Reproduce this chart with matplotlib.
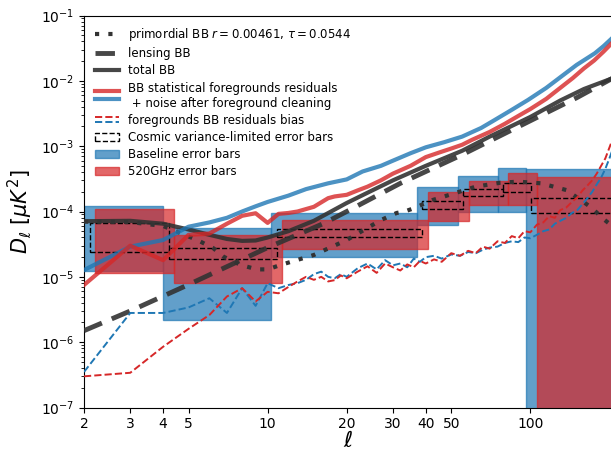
import numpy as np
import matplotlib
matplotlib.use("Agg")
import matplotlib.pyplot as plt
from matplotlib.patches import Rectangle, Patch
from matplotlib.lines import Line2D
from matplotlib.legend_handler import HandlerBase
from matplotlib.ticker import FixedLocator, NullLocator, FixedFormatter

# ---------------- data ----------------
ell_prim = [2, 3, 4, 5.4, 6.2, 6.8, 7.9, 9.1, 10, 11.2, 15, 20, 27, 31, 33, 36, 42.5, 49, 62, 77, 90, 110, 137, 159, 171, 192, 205]
D_prim = [7.0e-5, 6.9e-5, 6.0e-5, 3.66e-5, 2.76e-5, 2.03e-5, 1.52e-5, 1.3e-5, 1.3e-5, 1.52e-5, 2.16e-5, 3.66e-5,
          7.4e-5, 9.5e-5, 9.9e-5, 1.12e-4, 1.5e-4, 1.79e-4, 2.4e-4, 2.76e-4, 2.86e-4, 2.7e-4, 2.13e-4, 1.41e-4,
          1.14e-4, 7.4e-5, 6.0e-5]

ell_lens = [2, 3, 5, 10, 16.4, 20, 32, 55, 100, 150, 206]
D_lens = [1.5e-6, 3.0e-6, 7.6e-6, 2.8e-5, 6.6e-5, 1.0e-4, 2.7e-4, 7.4e-4, 2.45e-3, 5.5e-3, 1.1e-2]

ell_tot = [2, 3, 4, 5, 6, 7, 8, 9, 10, 12, 15, 20, 25, 30, 40, 55, 70, 100, 130, 160, 206]
D_tot = [7.1e-5, 7.2e-5, 6.5e-5, 5.3e-5, 4.4e-5, 3.8e-5, 3.55e-5, 3.6e-5, 4.0e-5, 5.0e-5, 7.2e-5, 1.35e-4,
         2.1e-4, 3.0e-4, 5.0e-4, 8.5e-4, 1.4e-3, 2.8e-3, 5.0e-3, 7.5e-3, 1.1e-2]

ell_res_520 = [2, 3, 4, 5, 6, 7, 8, 9, 10, 11, 12, 13, 15, 17, 18, 20, 22, 24, 27, 30, 35, 40, 45, 50, 55, 60,
               70, 80, 90, 100, 115, 130, 145, 160, 175, 190, 206]
D_res_520 = [7.5e-6, 3.0e-5, 1.8e-5, 4.4e-5, 4.6e-5, 6.5e-5, 8.6e-5, 9.4e-5, 6.7e-5, 9.2e-5, 9.5e-5, 1.0e-4,
             1.18e-4, 1.6e-4, 1.7e-4, 1.8e-4, 2.1e-4, 2.4e-4, 3.0e-4, 3.8e-4, 5.0e-4, 6.8e-4, 8.0e-4, 9.2e-4,
             1.05e-3, 1.25e-3, 1.65e-3, 2.2e-3, 2.9e-3, 3.7e-3, 5.3e-3, 7.8e-3, 1.1e-2, 1.55e-2, 2.05e-2,
             2.8e-2, 3.9e-2]

ell_res_base = [2, 3, 4, 5, 6, 7, 8, 9, 10, 12, 14, 17, 20, 23, 27, 30, 35, 40, 47, 55, 65, 73, 85, 98, 115,
                131, 150, 176, 190, 206]
D_res_base = [1.27e-5, 2.9e-5, 3.66e-5, 5.85e-5, 6.8e-5, 8.0e-5, 1.0e-4, 1.2e-4, 1.4e-4, 1.75e-4, 2.2e-4,
              2.7e-4, 3.1e-4, 4.1e-4, 5.0e-4, 6.0e-4, 7.8e-4, 9.6e-4, 1.15e-3, 1.4e-3, 1.9e-3, 2.5e-3, 3.6e-3,
              5.1e-3, 7.8e-3, 1.16e-2, 1.75e-2, 2.64e-2, 3.4e-2, 4.6e-2]

ell_bias = [2, 3, 4, 5, 6, 7, 8, 9, 10, 11, 12, 13, 14, 15, 16, 17, 18, 19, 20, 22, 24, 26, 28, 30, 32, 34, 36,
            38, 40, 43, 46, 50, 54, 58, 62, 66, 70, 75, 80, 85, 90, 95, 100, 106, 112, 118, 124, 130, 137, 144,
            151, 158, 165, 172, 179, 186, 193, 200, 206]
D_bias_520 = [3.0e-7, 3.4e-7, 8.5e-7, 1.6e-6, 2.6e-6, 5.0e-6, 6.7e-6, 4.2e-6, 5.9e-6, 5.6e-6, 7.0e-6, 8.5e-6,
              1.0e-5, 9.0e-6, 1.0e-5, 8.5e-6, 8.9e-6, 1.05e-5, 9.5e-6, 1.2e-5, 1.45e-5, 1.15e-5, 1.6e-5,
              1.4e-5, 1.25e-5, 1.55e-5, 1.4e-5, 1.75e-5, 1.6e-5, 1.85e-5, 1.7e-5, 2.3e-5, 2.1e-5, 2.5e-5,
              2.3e-5, 2.9e-5, 2.7e-5, 3.5e-5, 3.3e-5, 4.2e-5, 3.9e-5, 5.0e-5, 4.8e-5, 6.3e-5, 6.8e-5, 8.5e-5,
              8.0e-5, 1.05e-4, 1.15e-4, 1.4e-4, 1.65e-4, 2.1e-4, 2.5e-4, 3.0e-4, 3.8e-4, 5.0e-4, 6.5e-4,
              9.5e-4, 1.3e-3]
D_bias_base = [3.5e-7, 2.8e-6, 2.8e-6, 3.4e-6, 4.7e-6, 2.8e-6, 6.7e-6, 3.6e-6, 8.0e-6, 6.7e-6, 7.5e-6, 8.0e-6,
               9.0e-6, 1.1e-5, 1.2e-5, 1.0e-5, 9.5e-6, 1.1e-5, 1.0e-5, 1.35e-5, 1.6e-5, 1.3e-5, 1.8e-5,
               1.5e-5, 1.6e-5, 1.4e-5, 1.9e-5, 1.7e-5, 2.0e-5, 2.1e-5, 1.9e-5, 2.2e-5, 2.1e-5, 2.4e-5,
               2.3e-5, 2.6e-5, 2.8e-5, 2.9e-5, 3.3e-5, 3.5e-5, 3.4e-5, 4.0e-5, 3.9e-5, 4.4e-5, 5.0e-5,
               5.3e-5, 6.5e-5, 7.2e-5, 8.0e-5, 9.5e-5, 1.05e-4, 1.3e-4, 1.6e-4, 2.0e-4, 2.6e-4, 3.3e-4,
               4.5e-4, 6.5e-4, 9.0e-4]

# bin edges (multipoles) of the error boxes
bin_edges = [2, 4, 10.3, 37, 53, 75, 96, 400]
shift_cv = 1.05
shift_520 = 1.1

base_lo = [1.23e-5, 2.18e-6, 2.03e-5, 6.2e-5, 9.9e-5, 1.0e-4, 1e-9]
base_hi = [1.21e-4, 5.65e-5, 9.4e-5, 2.4e-4, 3.49e-4, 4.68e-4, 4.4e-4]
r520_lo = [1.16e-5, 8.1e-6, 2.67e-5, 7.1e-5, 1.26e-4, 1.26e-4, 1e-9]
r520_hi = [1.09e-4, 4.37e-5, 7.4e-5, 2.0e-4, 2.95e-4, 3.85e-4, 3.4e-4]
cv_lo = [2.37e-5, 1.85e-5, 4.1e-5, 1.08e-4, 1.73e-4, 2.0e-4, 9.5e-5]
cv_hi = [6.6e-5, 2.73e-5, 5.33e-5, 1.44e-4, 2.19e-4, 2.7e-4, 1.62e-4]

xticks = [2, 3, 4, 5, 10, 20, 30, 40, 50, 100]
yticks = [1e-7, 1e-6, 1e-5, 1e-4, 1e-3, 1e-2, 1e-1]

# ---------------- plot ----------------
blue = "#1f77b4"
red = "#d62728"
dark = "#333333"

fig = plt.figure(figsize=(6.11, 4.53), dpi=100)
ax = fig.add_axes([84 / 611, 45.5 / 453, 1 - 84 / 611 + 0.002, 392 / 453])
ax.set_xscale("log")
ax.set_yscale("log")

def add_boxes(lo, hi, shift, **kw):
    for i in range(len(lo)):
        x0 = bin_edges[i] * shift
        x1 = bin_edges[i + 1] * shift
        ax.add_patch(Rectangle((x0, lo[i]), x1 - x0, hi[i] - lo[i], **kw))

add_boxes(base_lo, base_hi, 1.0, facecolor=blue, edgecolor=blue, alpha=0.7, lw=1, zorder=1)
add_boxes(r520_lo, r520_hi, shift_520, facecolor=red, edgecolor=red, alpha=0.7, lw=1, zorder=1.1)
add_boxes(cv_lo, cv_hi, shift_cv, facecolor="none", edgecolor="k", ls="--", lw=1.0, zorder=1.2)

ax.plot(ell_prim, D_prim, ls=(0, (1, 2.2)), color=dark, lw=3, zorder=3)
ax.plot(ell_lens, D_lens, ls=(0, (4, 2.2)), color=dark, lw=3.5, alpha=0.9, zorder=3)
ax.plot(ell_tot, D_tot, ls="-", color=dark, lw=3, alpha=0.9, zorder=3)
ax.plot(ell_res_base, D_res_base, color=blue, lw=3, alpha=0.8, zorder=3)
ax.plot(ell_res_520, D_res_520, color=red, lw=3, alpha=0.8, zorder=3)
ax.plot(ell_bias, D_bias_base, color=blue, ls="--", lw=1.4, zorder=3)
ax.plot(ell_bias, D_bias_520, color=red, ls="--", lw=1.4, zorder=3)

ax.set_xlim(2, 205)
ax.set_ylim(1e-7, 1e-1)
ax.xaxis.set_major_locator(FixedLocator(xticks))
ax.xaxis.set_major_formatter(FixedFormatter([str(t) for t in xticks]))
ax.xaxis.set_minor_locator(NullLocator())
ax.set_yticks(yticks)
ax.tick_params(labelsize=10)
ax.spines["right"].set_visible(False)
ax.set_xlabel(r"$\ell$", fontsize=16, labelpad=0)
ax.set_ylabel(r"$D_\ell\ [\mu K^2]$", fontsize=15, labelpad=4)


class HandlerStack(HandlerBase):
    def __init__(self, sep=4, shift=0, **kw):
        super().__init__(**kw)
        self.sep = sep
        self.shift = shift

    def create_artists(self, legend, orig_handle, xdescent, ydescent, width, height, fontsize, trans):
        artists = []
        yc = height / 2 - ydescent + self.shift
        for k, h in enumerate(orig_handle.lines):
            off = (0.5 - k) * self.sep
            ln = Line2D([-xdescent, -xdescent + width], [yc + off, yc + off],
                        color=h.get_color(), ls=h.get_linestyle(), lw=h.get_linewidth(),
                        alpha=h.get_alpha(), transform=trans)
            artists.append(ln)
        return artists


class Pair:
    def __init__(self, *lines):
        self.lines = lines


class PairRes(Pair):
    pass


class PairBias(Pair):
    pass


h_prim = Line2D([], [], ls=(0, (1, 2.2)), color=dark, lw=3)
h_lens = Line2D([], [], ls=(0, (4, 2.2)), color=dark, lw=3.5, alpha=0.9)
h_tot = Line2D([], [], color=dark, lw=3, alpha=0.9)
h_res = PairRes(Line2D([], [], color=red, lw=3, alpha=0.8), Line2D([], [], color=blue, lw=3, alpha=0.8))
h_bias = PairBias(Line2D([], [], color=red, ls="--", lw=1.4), Line2D([], [], color=blue, ls="--", lw=1.4))
h_cv = Patch(facecolor="none", edgecolor="k", ls="--", lw=1.0)
h_base = Patch(facecolor=blue, edgecolor=blue, alpha=0.7)
h_520 = Patch(facecolor=red, edgecolor=red, alpha=0.7)

leg = ax.legend(
    [h_prim, h_lens, h_tot, h_res, h_bias, h_cv, h_base, h_520],
    [r"primordial BB $r=0.00461$, $\tau=0.0544$", "lensing BB", "total BB",
     "BB statistical foregrounds residuals\n + noise after foreground cleaning",
     "foregrounds BB residuals bias", "Cosmic variance-limited error bars",
     "Baseline error bars", "520GHz error bars"],
    handler_map={PairRes: HandlerStack(sep=5.8, shift=1.0), PairBias: HandlerStack(sep=3.6)},
    loc="upper left", frameon=False, fontsize=8.5, handlelength=2.1,
    handletextpad=0.75, labelspacing=0.35, borderaxespad=0.5,
)
fig.savefig("out.png", dpi=100)
